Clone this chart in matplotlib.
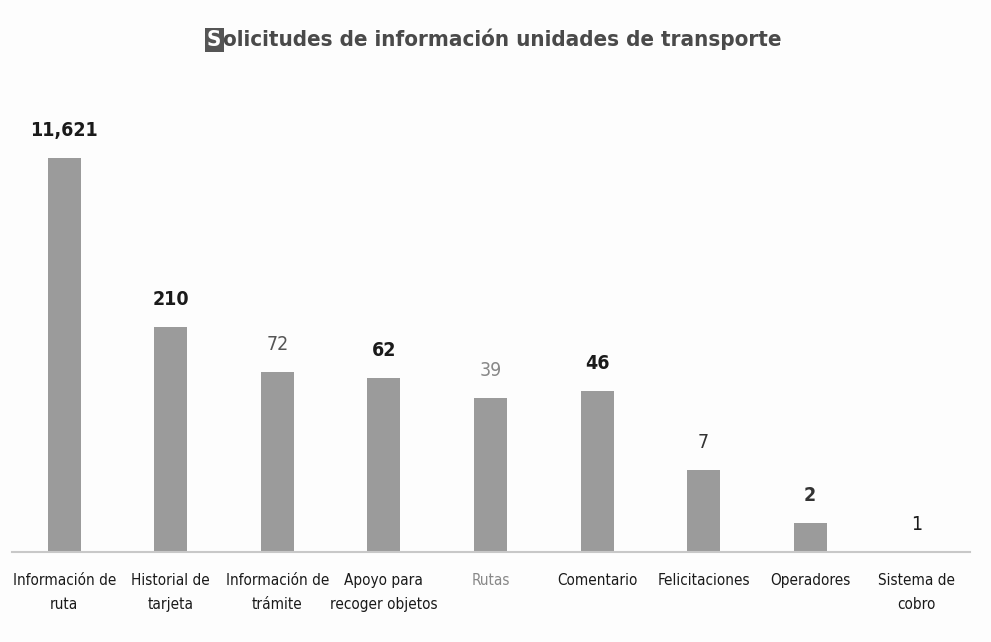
import matplotlib
matplotlib.use("Agg")
import matplotlib.pyplot as plt

categories = ["Información de\nruta", "Historial de\ntarjeta", "Información de\ntrámite",
              "Apoyo para\nrecoger objetos", "Rutas", "Comentario", "Felicitaciones",
              "Operadores", "Sistema de\ncobro"]
values = [11621, 210, 72, 62, 39, 46, 7, 2, 1]
value_labels = ["11,621", "210", "72", "62", "39", "46", "7", "2", "1"]
value_colors = ["#1a1a1a", "#1a1a1a", "#555555", "#1a1a1a", "#888888", "#1a1a1a", "#333333", "#333333", "#1a1a1a"]
value_weights = ["bold", "bold", "normal", "bold", "normal", "bold", "normal", "bold", "normal"]
cat_colors = ["#1a1a1a"] * 4 + ["#888888"] + ["#1a1a1a"] * 4

FONT = ["DejaVu Sans", "Liberation Sans"]
plt.rcParams["font.family"] = FONT
plt.rcParams["font.stretch"] = "condensed"

fig = plt.figure(figsize=(9.91, 6.42), dpi=100)
fig.patch.set_facecolor("#fdfdfd")
ax = fig.add_axes([12 / 991, 1 - 552 / 642, (970 - 12) / 991, 452 / 642])
ax.set_facecolor("#fdfdfd")

x = list(range(len(categories)))
ax.bar(x, values, width=0.31, color="#9b9b9b", bottom=0)
ax.set_yscale("log")
ax.set_ylim(1, 10 ** (452 / 97))
ax.set_xlim(-0.49, 8.5)

for xi, v, lab, c, w in zip(x, values, value_labels, value_colors, value_weights):
    ax.annotate(lab, (xi, v), xytext=(0, 13), textcoords="offset points",
                ha="center", va="bottom", fontsize=14, color=c, fontweight=w,
                fontstretch="condensed")

ax.set_xticks(x)
ax.set_xticklabels(categories, fontsize=11, fontstretch="condensed", linespacing=1.75)
for t, c in zip(ax.get_xticklabels(), cat_colors):
    t.set_color(c)
ax.tick_params(axis="x", length=0, pad=15)
ax.set_yticks([])
ax.yaxis.set_minor_locator(matplotlib.ticker.NullLocator())
for s in ["top", "right", "left"]:
    ax.spines[s].set_visible(False)
ax.spines["bottom"].set_color("#c8c8c8")
ax.spines["bottom"].set_linewidth(1.5)

t1 = fig.text(207 / 991, 1 - 46 / 642, "S", fontsize=16, fontweight="bold", color="white",
              va="baseline", ha="left", fontstretch="condensed",
              bbox=dict(boxstyle="square,pad=0.1", fc="#555555", ec="none"))
ax.annotate("olicitudes de información unidades de transporte", xy=(1, 0), xycoords=t1,
            xytext=(1.5, 0), textcoords="offset points",
            fontsize=16, fontweight="bold", color="#4a4a4a", va="bottom", ha="left",
            fontstretch="condensed", annotation_clip=False)

fig.savefig("out.png", dpi=100, facecolor=fig.get_facecolor())
